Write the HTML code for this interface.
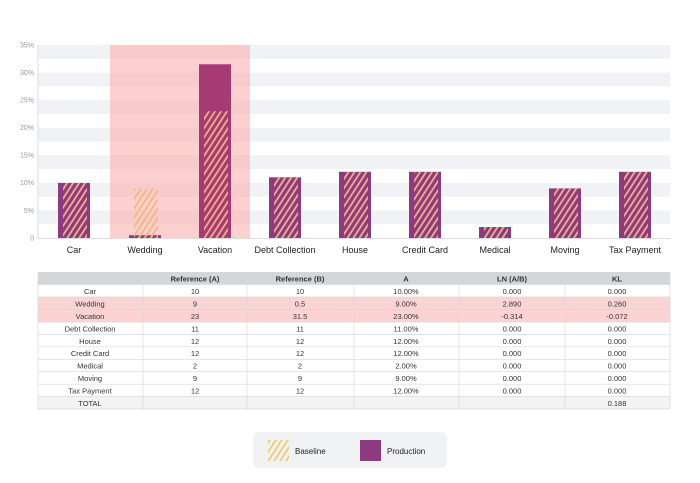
<!DOCTYPE html>
<html><head><meta charset="utf-8"><style>
html,body{margin:0;padding:0;background:#fff;}
svg{display:block;font-family:"Liberation Sans",sans-serif;}
</style></head><body>
<svg width="700" height="483" viewBox="0 0 700 483" xmlns="http://www.w3.org/2000/svg">
<defs>
<pattern id="h" patternUnits="userSpaceOnUse" width="5" height="5" patternTransform="rotate(33)">
<line x1="1" y1="0" x2="1" y2="5" stroke="#f7b784" stroke-width="1.7"/>
</pattern>
<pattern id="hl" patternUnits="userSpaceOnUse" width="5" height="5" patternTransform="rotate(33)">
<line x1="1" y1="0" x2="1" y2="5" stroke="#efc96a" stroke-width="1.7"/>
</pattern>
<pattern id="hw" patternUnits="userSpaceOnUse" width="5" height="5" patternTransform="rotate(33)">
<line x1="1" y1="0" x2="1" y2="5" stroke="#f5b67c" stroke-width="1.8"/>
</pattern>
</defs>
<g fill="#f0f2f5">
<rect x="38" y="45" width="632" height="13.8"/>
<rect x="38" y="72.6" width="632" height="13.8"/>
<rect x="38" y="100.2" width="632" height="13.8"/>
<rect x="38" y="127.8" width="632" height="13.8"/>
<rect x="38" y="155.3" width="632" height="13.8"/>
<rect x="38" y="182.9" width="632" height="13.8"/>
<rect x="38" y="210.4" width="632" height="13.8"/>
</g>
<rect x="110" y="45" width="140" height="193" fill="#fbb0b0" opacity="0.6"/>
<line x1="38" y1="45" x2="38" y2="238" stroke="#ddd" stroke-width="1"/>
<line x1="38" y1="238.5" x2="670" y2="238.5" stroke="#ddd" stroke-width="1"/>
<g font-size="7" fill="#999" text-anchor="end">
<text x="34" y="47.5">35%</text><text x="34" y="75">30%</text><text x="34" y="102.5">25%</text>
<text x="34" y="130">20%</text><text x="34" y="157.5">15%</text><text x="34" y="185">10%</text>
<text x="34" y="213">5%</text><text x="34" y="240.5">0</text>
</g>
<g fill="#8e3a80">
<rect x="58" y="182.9" width="32" height="55.1"/>
<rect x="129" y="235.2" width="32" height="2.8"/>
<rect x="199" y="64.3" width="32" height="173.7" fill="#a53a74"/>
<rect x="269" y="177.3" width="32" height="60.7"/>
<rect x="339" y="171.8" width="32" height="66.2"/>
<rect x="409" y="171.8" width="32" height="66.2"/>
<rect x="479" y="227" width="32" height="11"/>
<rect x="549" y="188.4" width="32" height="49.6"/>
<rect x="619" y="171.8" width="32" height="66.2"/>
</g>
<g fill="url(#h)">
<rect x="63" y="182.9" width="24" height="55.1"/>
<rect x="134" y="188.4" width="24" height="49.6" fill="url(#hw)"/>
<rect x="204" y="111.2" width="24" height="126.8"/>
<rect x="274" y="177.3" width="24" height="60.7"/>
<rect x="344" y="171.8" width="24" height="66.2"/>
<rect x="414" y="171.8" width="24" height="66.2"/>
<rect x="484" y="227" width="24" height="11"/>
<rect x="554" y="188.4" width="24" height="49.6"/>
<rect x="624" y="171.8" width="24" height="66.2"/>
</g>
<g font-size="9" fill="#222" text-anchor="middle">
<text x="74" y="253">Car</text><text x="145" y="253">Wedding</text><text x="215" y="253">Vacation</text>
<text x="285" y="253">Debt Collection</text><text x="355" y="253">House</text><text x="425" y="253">Credit Card</text>
<text x="495" y="253">Medical</text><text x="565" y="253">Moving</text><text x="635" y="253">Tax Payment</text>
</g>
<rect x="38" y="272" width="632" height="12.5" fill="#d5d6d8"/>
<rect x="38" y="297" width="632" height="25" fill="#fbd3d3"/>
<rect x="38" y="396.6" width="632" height="12.5" fill="#f1f3f5"/>
<g stroke="#d8d8d8" stroke-width="0.7">
<line x1="38" y1="284.5" x2="670" y2="284.5"/><line x1="38" y1="297" x2="670" y2="297"/>
<line x1="38" y1="309.4" x2="670" y2="309.4"/><line x1="38" y1="322" x2="670" y2="322"/>
<line x1="38" y1="334.4" x2="670" y2="334.4"/><line x1="38" y1="346.8" x2="670" y2="346.8"/>
<line x1="38" y1="359.3" x2="670" y2="359.3"/><line x1="38" y1="371.7" x2="670" y2="371.7"/>
<line x1="38" y1="384.2" x2="670" y2="384.2"/><line x1="38" y1="396.6" x2="670" y2="396.6"/>
<line x1="38" y1="409" x2="670" y2="409"/>
<line x1="38" y1="272" x2="38" y2="409"/><line x1="670" y1="272" x2="670" y2="409"/>
<line x1="143" y1="272" x2="143" y2="409"/><line x1="247" y1="272" x2="247" y2="409"/>
<line x1="354" y1="272" x2="354" y2="409"/><line x1="459" y1="272" x2="459" y2="409"/>
<line x1="565" y1="272" x2="565" y2="409"/>
</g>
<g font-size="7.5" fill="#333" text-anchor="middle">
<g font-weight="bold"><text x="195" y="281.5">Reference (A)</text><text x="300" y="281.5">Reference (B)</text><text x="406" y="281.5">A</text><text x="512" y="281.5">LN (A/B)</text><text x="617" y="281.5">KL</text></g>
<g>
<text x="90" y="294">Car</text><text x="195" y="294">10</text><text x="300" y="294">10</text><text x="406" y="294">10.00%</text><text x="512" y="294">0.000</text><text x="617" y="294">0.000</text>
<text x="90" y="306.4">Wedding</text><text x="195" y="306.4">9</text><text x="300" y="306.4">0.5</text><text x="406" y="306.4">9.00%</text><text x="512" y="306.4">2.890</text><text x="617" y="306.4">0.260</text>
<text x="90" y="318.9">Vacation</text><text x="195" y="318.9">23</text><text x="300" y="318.9">31.5</text><text x="406" y="318.9">23.00%</text><text x="512" y="318.9">-0.314</text><text x="617" y="318.9">-0.072</text>
<text x="90" y="331.3">Debt Collection</text><text x="195" y="331.3">11</text><text x="300" y="331.3">11</text><text x="406" y="331.3">11.00%</text><text x="512" y="331.3">0.000</text><text x="617" y="331.3">0.000</text>
<text x="90" y="343.8">House</text><text x="195" y="343.8">12</text><text x="300" y="343.8">12</text><text x="406" y="343.8">12.00%</text><text x="512" y="343.8">0.000</text><text x="617" y="343.8">0.000</text>
<text x="90" y="356.2">Credit Card</text><text x="195" y="356.2">12</text><text x="300" y="356.2">12</text><text x="406" y="356.2">12.00%</text><text x="512" y="356.2">0.000</text><text x="617" y="356.2">0.000</text>
<text x="90" y="368.7">Medical</text><text x="195" y="368.7">2</text><text x="300" y="368.7">2</text><text x="406" y="368.7">2.00%</text><text x="512" y="368.7">0.000</text><text x="617" y="368.7">0.000</text>
<text x="90" y="381.1">Moving</text><text x="195" y="381.1">9</text><text x="300" y="381.1">9</text><text x="406" y="381.1">9.00%</text><text x="512" y="381.1">0.000</text><text x="617" y="381.1">0.000</text>
<text x="90" y="393.6">Tax Payment</text><text x="195" y="393.6">12</text><text x="300" y="393.6">12</text><text x="406" y="393.6">12.00%</text><text x="512" y="393.6">0.000</text><text x="617" y="393.6">0.000</text>
<text x="90" y="406">TOTAL</text><text x="617" y="406">0.188</text>
</g>
</g>
<rect x="253" y="432" width="194" height="36" rx="6" fill="#f1f2f4"/>
<rect x="268" y="440" width="21" height="21" fill="url(#hl)"/>
<text x="295" y="454" font-size="8" fill="#222">Baseline</text>
<rect x="360" y="440" width="21" height="21" fill="#8e3a80"/>
<text x="387" y="454" font-size="8" fill="#222">Production</text>
</svg>
</body></html>
